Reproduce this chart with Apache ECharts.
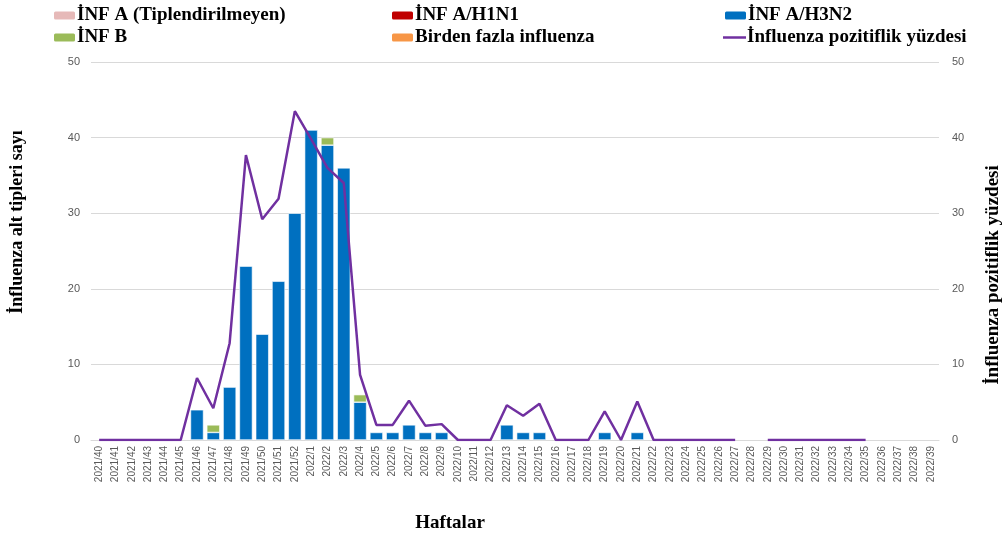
<!DOCTYPE html>
<html>
<head>
<meta charset="utf-8">
<script src="https://cdn.jsdelivr.net/npm/echarts@6/dist/echarts.min.js"></script>
<style>
  html, body { margin: 0; padding: 0; background: #fff; }
  #main { width: 1007px; height: 535px; }
</style>
</head>
<body>
<div id="main"></div>
<script>
// ===================== data =====================
const weeks = [
  '2021/40', '2021/41', '2021/42', '2021/43', '2021/44', '2021/45', '2021/46', '2021/47',
  '2021/48', '2021/49', '2021/50', '2021/51', '2021/52',
  '2022/1', '2022/2', '2022/3', '2022/4', '2022/5', '2022/6', '2022/7', '2022/8', '2022/9',
  '2022/10', '2022/11', '2022/12', '2022/13', '2022/14', '2022/15', '2022/16', '2022/17',
  '2022/18', '2022/19', '2022/20', '2022/21', '2022/22', '2022/23', '2022/24', '2022/25',
  '2022/26', '2022/27', '2022/28', '2022/29', '2022/30', '2022/31', '2022/32', '2022/33',
  '2022/34', '2022/35', '2022/36', '2022/37', '2022/38', '2022/39',
]
const _ = null
const infA = [
  _, _, _, _, _, _, _, _, _, _, _, _, _, _, _, _, _, _, _, _, _, _, _, _, _, _,
  _, _, _, _, _, _, _, _, _, _, _, _, _, _, _, _, _, _, _, _, _, _, _, _, _, _,
]
const infH1N1 = [
  _, _, _, _, _, _, _, _, _, _, _, _, _, _, _, _, _, _, _, _, _, _, _, _, _, _,
  _, _, _, _, _, _, _, _, _, _, _, _, _, _, _, _, _, _, _, _, _, _, _, _, _, _,
]
const infH3N2 = [
  _, _, _, _, _, _, 4, 1, 7, 23, 14, 21, 30,
  41, 39, 36, 5, 1, 1, 2, 1, 1, _, _, _, 2, 1, 1, _, _,
  _, 1, _, 1, _, _, _, _, _, _, _, _, _, _, _, _, _, _, _, _, _, _,
]
const infB = [
  _, _, _, _, _, _, _, 1, _, _, _, _, _,
  _, 1, _, 1, _, _, _, _, _, _, _, _, _, _, _, _, _,
  _, _, _, _, _, _, _, _, _, _, _, _, _, _, _, _, _, _, _, _, _, _,
]
const infMulti = [
  _, _, _, _, _, _, _, _, _, _, _, _, _, _, _, _, _, _, _, _, _, _, _, _, _, _,
  _, _, _, _, _, _, _, _, _, _, _, _, _, _, _, _, _, _, _, _, _, _, _, _, _, _,
]
const positivity = [
  0, 0, 0, 0, 0, 0, 8.2, 4.2, 12.8, 37.7, 29.2, 31.9, 43.5,
  39.8, 36.0, 34.0, 8.6, 2.0, 2.0, 5.2, 1.9, 2.1, 0, 0, 0, 4.6, 3.2, 4.8, 0, 0,
  0, 3.8, 0, 5.1, 0, 0, 0, 0, 0, 0, _, 0, 0, 0, 0, 0, 0, 0, _, _, _, _,
]
const axisTicks = [0, 10, 20, 30, 40, 50]

// ===================== init =====================
const myChart = echarts.init(document.getElementById('main'))
const serif = '"Liberation Serif", "DejaVu Serif", serif'
const sans = '"Liberation Sans", Arial, sans-serif'
const gridColor = '#d9d9d9'
const labelColor = '#595959'
const titleFont = { fontFamily: serif, fontWeight: 'bold', fontSize: 18, fill: '#000' }

const legendItem = (name, left, top, icon) => ({
  data: [icon ? { name, icon } : name],
  left,
  top,
  padding: 0,
  itemWidth: 23,
  itemHeight: 10,
  textStyle: { fontFamily: serif, fontWeight: 'bold', fontSize: 19, color: '#000', padding: [0, 0, 0, -4] },
  selectedMode: false,
})

const barSeries = (name, data, color) => ({
  name,
  type: 'bar',
  stack: 'total',
  yAxisIndex: 0,
  data,
  barCategoryGap: '20%',
  itemStyle: { color, borderColor: '#fff', borderWidth: 0.6 },
})

const valueAxis = (margin) => ({
  type: 'value',
  min: axisTicks[0],
  max: axisTicks[axisTicks.length - 1],
  interval: 10,
  splitLine: { show: true, lineStyle: { color: gridColor, width: 1 } },
  axisLine: { show: false },
  axisTick: { show: false },
  axisLabel: { fontFamily: sans, fontSize: 11, color: labelColor, margin },
})

const option = {
  backgroundColor: '#fff',
  animation: false,
  legend: [
    legendItem('İNF A (Tiplendirilmeyen)', 52, 6),
    legendItem('İNF A/H1N1', 390, 6),
    legendItem('İNF A/H3N2', 723, 6),
    legendItem('İNF B', 52, 28),
    legendItem('Birden fazla influenza', 390, 28),
    legendItem('İnfluenza pozitiflik yüzdesi', 723, 28, 'path://M0,4 L23,4 L23,6.5 L0,6.5 Z'),
  ],
  grid: { left: 91, right: 68, top: 62, bottom: 95, outerBoundsMode: 'none', containLabel: false },
  xAxis: {
    type: 'category',
    data: weeks,
    axisLine: { show: true, lineStyle: { color: gridColor } },
    axisTick: { show: false },
    axisLabel: { interval: 0, rotate: 90, fontFamily: sans, fontSize: 10, color: labelColor, margin: 6 },
  },
  yAxis: [valueAxis(11), { ...valueAxis(13), splitLine: { show: false } }],
  graphic: [
    {
      type: 'text',
      x: 450,
      y: 523,
      style: { text: 'Haftalar', ...titleFont, fontSize: 19, align: 'center', verticalAlign: 'middle' },
    },
    {
      type: 'text',
      x: 17,
      y: 222,
      rotation: Math.PI / 2,
      style: { text: 'İnfluenza alt tipleri sayı', ...titleFont, align: 'center', verticalAlign: 'middle' },
    },
    {
      type: 'text',
      x: 993,
      y: 275,
      rotation: Math.PI / 2,
      style: { text: 'İnfluenza pozitiflik yüzdesi', ...titleFont, fontSize: 19, align: 'center', verticalAlign: 'middle' },
    },
  ],
  series: [
    barSeries('İNF A (Tiplendirilmeyen)', infA, '#e6b9b8'),
    barSeries('İNF A/H1N1', infH1N1, '#c00000'),
    barSeries('İNF A/H3N2', infH3N2, '#0070c0'),
    barSeries('İNF B', infB, '#9bbb59'),
    barSeries('Birden fazla influenza', infMulti, '#f79646'),
    {
      name: 'İnfluenza pozitiflik yüzdesi',
      type: 'line',
      yAxisIndex: 1,
      data: positivity,
      symbol: 'none',
      connectNulls: false,
      z: 5,
      lineStyle: { color: '#7030a0', width: 2.5 },
      itemStyle: { color: '#7030a0' },
    },
  ],
}
myChart.setOption(option)
</script>
</body>
</html>
